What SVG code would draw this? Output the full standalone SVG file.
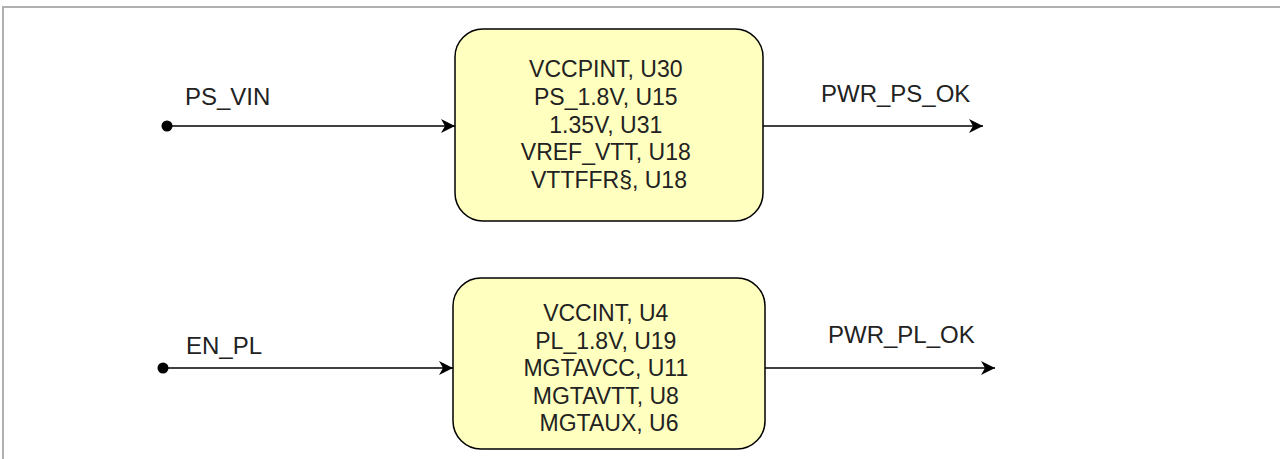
<svg xmlns="http://www.w3.org/2000/svg" width="1280" height="459" viewBox="0 0 1280 459">
<defs>
<style>
.node{fill:#ffffc0;stroke:#000;stroke-width:1.5}
.t{font-family:"Liberation Sans",Arial,sans-serif;font-size:23px;fill:#222}
.lb{font-family:"Liberation Sans",Arial,sans-serif;font-size:24px;fill:#222}
.ln{stroke:#000;stroke-width:1.5;fill:none}
</style>
<marker id="ah" viewBox="0 0 14 14" refX="14" refY="7" markerWidth="14" markerHeight="14" markerUnits="userSpaceOnUse" orient="auto">
<path d="M0,0 L14,7 L0,14 L4,7 Z" fill="#000"/>
</marker>
<marker id="dot" viewBox="0 0 12 12" refX="6" refY="6" markerWidth="12" markerHeight="12" markerUnits="userSpaceOnUse">
<circle cx="6" cy="6" r="5.5" fill="#000"/>
</marker>
</defs>
<rect width="1280" height="459" fill="#fff"/>
<path d="M3,459 L3,7 L1280,7" fill="none" stroke="#b0b0b0" stroke-width="2"/>
<g id="connectors">
<path class="ln" d="M167,126 L455,126" marker-start="url(#dot)" marker-end="url(#ah)"/>
<path class="ln" d="M763,126 L983,126" marker-end="url(#ah)"/>
<path class="ln" d="M163,368 L453,368" marker-start="url(#dot)" marker-end="url(#ah)"/>
<path class="ln" d="M765,368 L995,368" marker-end="url(#ah)"/>
<text class="lb" x="185" y="105">PS_VIN</text>
<text class="lb" x="821" y="102">PWR_PS_OK</text>
<text class="lb" x="186" y="354">EN_PL</text>
<text class="lb" x="828" y="343">PWR_PL_OK</text>
</g>
<g id="ps">
<rect class="node" x="455" y="29" width="308" height="192" rx="28"/>
<text class="t" text-anchor="middle" x="609">
<tspan x="609" y="77">VCCPINT, U30</tspan>
<tspan x="609" y="104.75">PS_1.8V, U15</tspan>
<tspan x="609" y="132.5">1.35V, U31</tspan>
<tspan x="609" y="160.25">VREF_VTT, U18</tspan>
<tspan x="609" y="188">VTTFFR§, U18</tspan>
</text>
</g>
<g id="pl">
<rect class="node" x="453" y="278" width="312" height="171" rx="28"/>
<text class="t" text-anchor="middle" x="609">
<tspan x="609" y="321">VCCINT, U4</tspan>
<tspan x="609" y="348.5">PL_1.8V, U19</tspan>
<tspan x="609" y="376">MGTAVCC, U11</tspan>
<tspan x="609" y="403.5">MGTAVTT, U8</tspan>
<tspan x="609" y="431">MGTAUX, U6</tspan>
</text>
</g>
</svg>
